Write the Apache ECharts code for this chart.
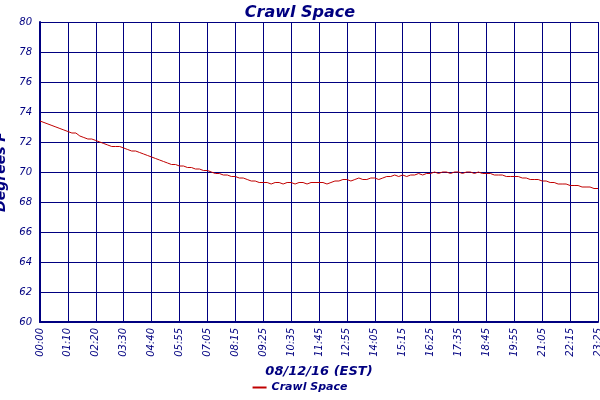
<!DOCTYPE html>
<html>
<head>
<meta charset="utf-8">
<script src="https://cdn.jsdelivr.net/npm/echarts@6/dist/echarts.min.js"></script>
<style>html,body{margin:0;padding:0;background:#fff}</style>
</head>
<body>
<div id="main" style="width:600px;height:400px"></div>
<script>
// tick labels along the time axis
var tickLabels = ['00:00','01:10','02:20','03:30','04:40','05:55','07:05','08:15','09:25','10:35',
  '11:45','12:55','14:05','15:15','16:25','17:35','18:45','19:55','21:05','22:15','23:25'];
// temperature readings, 7 per tick interval
var crawlSpace = [
  73.4,73.3,73.2,73.1,73.0,72.9,72.8,
  72.7,72.6,72.6,72.4,72.3,72.2,72.2,
  72.1,72.0,71.9,71.8,71.7,71.7,71.7,
  71.6,71.5,71.4,71.4,71.3,71.2,71.1,
  71.0,70.9,70.8,70.7,70.6,70.5,70.5,
  70.4,70.4,70.3,70.3,70.2,70.2,70.1,
  70.1,70.0,69.9,69.9,69.8,69.8,69.7,
  69.7,69.6,69.6,69.5,69.4,69.4,69.3,
  69.3,69.3,69.2,69.3,69.3,69.2,69.3,
  69.3,69.2,69.3,69.3,69.2,69.3,69.3,
  69.3,69.3,69.2,69.3,69.4,69.4,69.5,
  69.5,69.4,69.5,69.6,69.5,69.5,69.6,
  69.6,69.5,69.6,69.7,69.7,69.8,69.7,
  69.8,69.7,69.8,69.8,69.9,69.8,69.9,
  69.9,70.0,69.9,70.0,70.0,69.9,70.0,
  70.0,69.9,70.0,70.0,69.9,70.0,69.9,
  69.9,69.9,69.8,69.8,69.8,69.7,69.7,
  69.7,69.7,69.6,69.6,69.5,69.5,69.5,
  69.4,69.4,69.3,69.3,69.2,69.2,69.2,
  69.1,69.1,69.1,69.0,69.0,69.0,68.9,
  68.9
];
var categories = crawlSpace.map(function(v, i){ return i % 7 === 0 ? tickLabels[i / 7] : ''; });

var navy = '#000080';
var font = 'DejaVu Sans';
var chart = echarts.init(document.getElementById('main'));
chart.setOption({
  animation: false,
  title: {
    text: 'Crawl Space', left: 'center', top: 0,
    textStyle: {color: navy, fontFamily: font, fontStyle: 'italic', fontWeight: 'bold', fontSize: 16}
  },
  legend: {
    bottom: 2, left: 'center', icon: 'rect', itemWidth: 14, itemHeight: 2,
    textStyle: {color: navy, fontFamily: font, fontStyle: 'italic', fontWeight: 'bold', fontSize: 11}
  },
  grid: {left: 40, right: 2, top: 22, bottom: 78, outerBoundsMode: 'none', containLabel: false},
  xAxis: {
    type: 'category', data: categories, boundaryGap: false,
    name: '08/12/16 (EST)', nameLocation: 'middle', nameGap: 38,
    nameTextStyle: {color: navy, fontFamily: font, fontStyle: 'italic', fontWeight: 'bold', fontSize: 13},
    axisLine: {lineStyle: {color: navy, width: 2}},
    axisTick: {show: false},
    axisLabel: {interval: 6, rotate: 90, color: navy, fontFamily: font, fontStyle: 'italic', fontSize: 10, margin: 6},
    splitLine: {show: true, interval: 6, lineStyle: {color: navy, width: 1}}
  },
  yAxis: {
    type: 'value', min: 60, max: 80, interval: 2,
    name: 'Degrees F', nameLocation: 'middle', nameGap: 28,
    nameTextStyle: {color: navy, fontFamily: font, fontStyle: 'italic', fontWeight: 'bold', fontSize: 14},
    axisLine: {show: true, lineStyle: {color: navy, width: 2}},
    axisTick: {show: false},
    axisLabel: {color: navy, fontFamily: font, fontStyle: 'italic', fontSize: 10, margin: 8},
    splitLine: {lineStyle: {color: navy, width: 1}}
  },
  series: [{
    name: 'Crawl Space', type: 'line', data: crawlSpace, symbol: 'none',
    lineStyle: {color: '#c00000', width: 1}, itemStyle: {color: '#c00000'}
  }]
});
</script>
</body>
</html>
